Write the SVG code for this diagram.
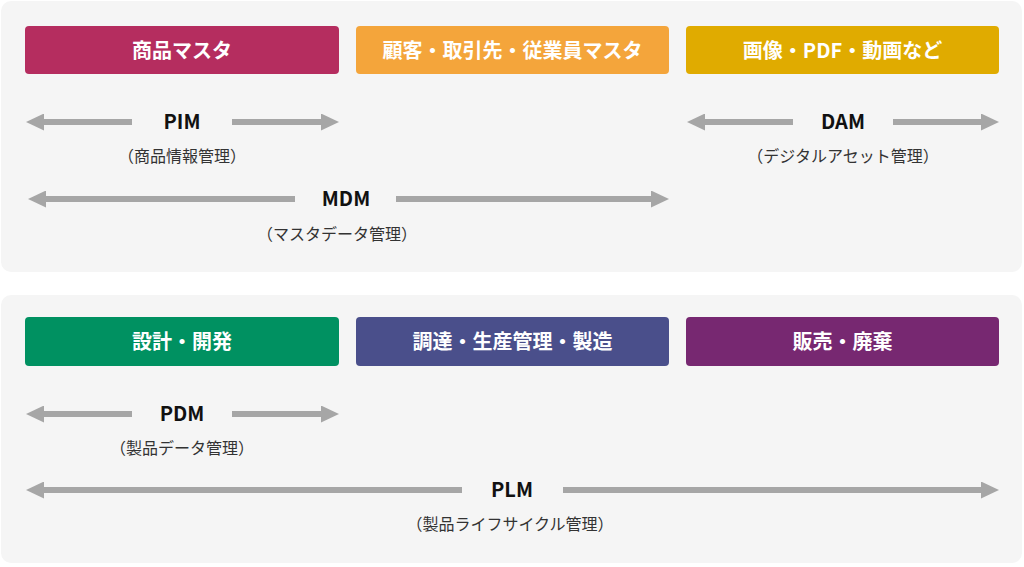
<svg xmlns="http://www.w3.org/2000/svg" width="1024" height="567" viewBox="0 0 1024 567">
<style>
.panel{fill:#f5f5f5}
.box text{font-family:"Noto Sans CJK JP","Noto Sans",sans-serif;font-weight:700;font-size:20px;fill:#fff;text-anchor:middle;dominant-baseline:central}
.lbl{font-family:"Noto Sans CJK JP","Noto Sans",sans-serif;font-weight:700;font-size:20px;fill:#111;text-anchor:middle;dominant-baseline:central}
.sub{font-family:"Noto Sans CJK JP","Noto Sans",sans-serif;font-weight:400;font-size:16px;fill:#333;text-anchor:middle;dominant-baseline:central}
.arr{stroke:#a6a6a6;stroke-width:6;fill:none}
</style>
<defs>
<marker id="ah" markerUnits="userSpaceOnUse" viewBox="0 0 18 17" markerWidth="18" markerHeight="17" refX="2" refY="8.5" orient="auto-start-reverse">
<path d="M0,0 L18,8.5 L0,17 Z" fill="#a6a6a6"/>
</marker>
</defs>
<rect width="1024" height="567" fill="#fff"/>
<rect class="panel" x="1" y="1" width="1021" height="271" rx="10"/>
<rect class="panel" x="1" y="295" width="1021" height="268" rx="10"/>

<g id="node-shohin" class="box"><rect x="25" y="26" width="314" height="48" rx="4" fill="#b52d5f"/><text x="182" y="49">商品マスタ</text></g>
<g id="node-kokyaku" class="box"><rect x="356" y="26" width="313" height="48" rx="4" fill="#f4a53b"/><text x="512.5" y="49">顧客・取引先・従業員マスタ</text></g>
<g id="node-gazo" class="box"><rect x="686" y="26" width="313" height="48" rx="4" fill="#e0ab00"/><text x="842.5" y="49">画像・PDF・動画など</text></g>
<g id="node-sekkei" class="box"><rect x="25" y="317" width="314" height="49" rx="4" fill="#009161"/><text x="182" y="340.5">設計・開発</text></g>
<g id="node-chotatsu" class="box"><rect x="356" y="317" width="313" height="49" rx="4" fill="#4a4f8b"/><text x="512.5" y="340.5">調達・生産管理・製造</text></g>
<g id="node-hanbai" class="box"><rect x="686" y="317" width="313" height="49" rx="4" fill="#772871"/><text x="842.5" y="340.5">販売・廃棄</text></g>

<g id="connectors">
<line class="arr" x1="42" y1="122" x2="132" y2="122" marker-start="url(#ah)"/>
<line class="arr" x1="232" y1="122" x2="323" y2="122" marker-end="url(#ah)"/>
<line class="arr" x1="703" y1="122" x2="793" y2="122" marker-start="url(#ah)"/>
<line class="arr" x1="893" y1="122" x2="983" y2="122" marker-end="url(#ah)"/>
<line class="arr" x1="44" y1="199" x2="295" y2="199" marker-start="url(#ah)"/>
<line class="arr" x1="396" y1="199" x2="653" y2="199" marker-end="url(#ah)"/>
<line class="arr" x1="42" y1="414" x2="132" y2="414" marker-start="url(#ah)"/>
<line class="arr" x1="232" y1="414" x2="323" y2="414" marker-end="url(#ah)"/>
<line class="arr" x1="42" y1="490" x2="462" y2="490" marker-start="url(#ah)"/>
<line class="arr" x1="563" y1="490" x2="983" y2="490" marker-end="url(#ah)"/>
</g>

<g id="label-pim"><text class="lbl" x="182" y="120.5">PIM</text><text class="sub" x="182" y="155">（商品情報管理）</text></g>
<g id="label-dam"><text class="lbl" x="843" y="120.5">DAM</text><text class="sub" x="843" y="155">（デジタルアセット管理）</text></g>
<g id="label-mdm"><text class="lbl" x="346" y="197.5">MDM</text><text class="sub" x="337" y="233">（マスタデータ管理）</text></g>
<g id="label-pdm"><text class="lbl" x="182" y="412.5">PDM</text><text class="sub" x="182" y="447">（製品データ管理）</text></g>
<g id="label-plm"><text class="lbl" x="512" y="488.5">PLM</text><text class="sub" x="510" y="523">（製品ライフサイクル管理）</text></g>
</svg>
